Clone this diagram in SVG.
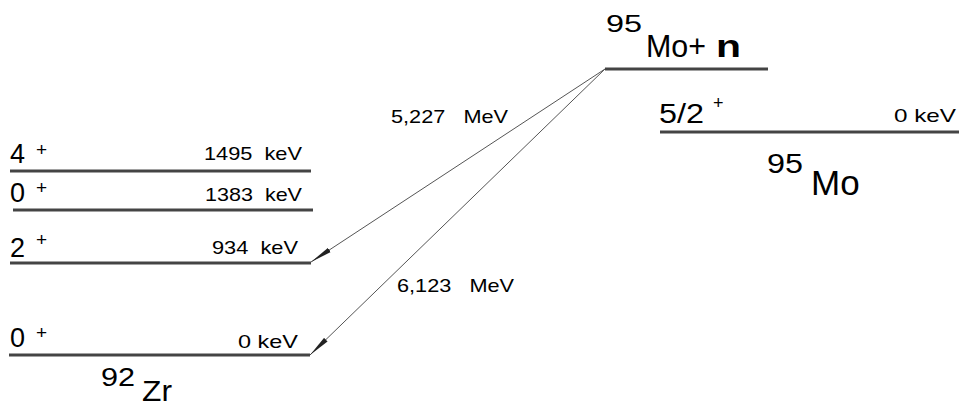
<svg xmlns="http://www.w3.org/2000/svg" width="959" height="407" viewBox="0 0 959 407">
<style>
.lvl{stroke:#444;stroke-width:3;fill:none}
.arr{stroke:#555;stroke-width:1;fill:none}
.t{font-family:"Liberation Sans",Arial,sans-serif;fill:#000;white-space:pre}
.big{font-size:27px}
.sup{font-size:19px}
.e{font-size:19px}
.m{font-size:19px}
</style>
<defs>
<marker id="ah" viewBox="0 0 22 6" refX="22" refY="3" markerWidth="22" markerHeight="6" markerUnits="userSpaceOnUse" orient="auto">
<path d="M0,0.5 L22,3 L0,5.5 Z" fill="#222"/>
</marker>
</defs>
<g id="zr-4plus">
<line class="lvl" x1="10" y1="171" x2="311" y2="171"/>
<text class="t big" x="10" y="163">4</text>
<text class="t sup" x="36" y="156">+</text>
<text class="t e" x="204" y="160" textLength="98" lengthAdjust="spacingAndGlyphs">1495  keV</text>
</g>
<g id="zr-0plus-1383">
<line class="lvl" x1="13" y1="210" x2="313" y2="210"/>
<text class="t big" x="10" y="202">0</text>
<text class="t sup" x="36" y="194">+</text>
<text class="t e" x="205" y="201" textLength="97" lengthAdjust="spacingAndGlyphs">1383  keV</text>
</g>
<g id="zr-2plus">
<line class="lvl" x1="10" y1="263" x2="311" y2="263"/>
<text class="t big" x="10" y="257">2</text>
<text class="t sup" x="36" y="246">+</text>
<text class="t e" x="212" y="254" textLength="86" lengthAdjust="spacingAndGlyphs">934  keV</text>
</g>
<g id="zr-0plus">
<line class="lvl" x1="9" y1="355" x2="310" y2="355"/>
<text class="t big" x="10" y="347">0</text>
<text class="t sup" x="36" y="339">+</text>
<text class="t e" x="238" y="348" textLength="60" lengthAdjust="spacingAndGlyphs">0 keV</text>
</g>
<g id="zr-label">
<text class="t" x="101" y="386" font-size="26" textLength="34" lengthAdjust="spacingAndGlyphs">92</text>
<text class="t" x="142" y="401" font-size="30" textLength="30" lengthAdjust="spacingAndGlyphs">Zr</text>
</g>
<g id="mo-n">
<line class="lvl" x1="605" y1="69" x2="768" y2="69"/>
<text class="t" x="606" y="32" font-size="24" textLength="36" lengthAdjust="spacingAndGlyphs">95</text>
<text class="t" x="646" y="57" font-size="31" textLength="60" lengthAdjust="spacingAndGlyphs">Mo+</text>
<text class="t" x="716" y="57" font-size="32" font-weight="bold" textLength="25" lengthAdjust="spacingAndGlyphs">n</text>
</g>
<g id="mo-52plus">
<line class="lvl" x1="660" y1="132" x2="959" y2="132"/>
<text class="t big" x="659" y="123" font-size="25" textLength="45" lengthAdjust="spacingAndGlyphs">5/2</text>
<text class="t" x="713" y="109" font-size="18">+</text>
<text class="t e" x="894" y="122" textLength="62" lengthAdjust="spacingAndGlyphs">0 keV</text>
</g>
<g id="mo-label">
<text class="t" x="767" y="173" font-size="28" textLength="36" lengthAdjust="spacingAndGlyphs">95</text>
<text class="t" x="811" y="195" font-size="35">Mo</text>
</g>
<g id="connectors">
<line class="arr" x1="605" y1="69" x2="311" y2="262" marker-end="url(#ah)"/>
<line class="arr" x1="605" y1="69" x2="310" y2="355" marker-end="url(#ah)"/>
<text class="t m" x="391" y="123" textLength="117" lengthAdjust="spacingAndGlyphs">5,227   MeV</text>
<text class="t m" x="397" y="292" textLength="117" lengthAdjust="spacingAndGlyphs">6,123   MeV</text>
</g>
</svg>
